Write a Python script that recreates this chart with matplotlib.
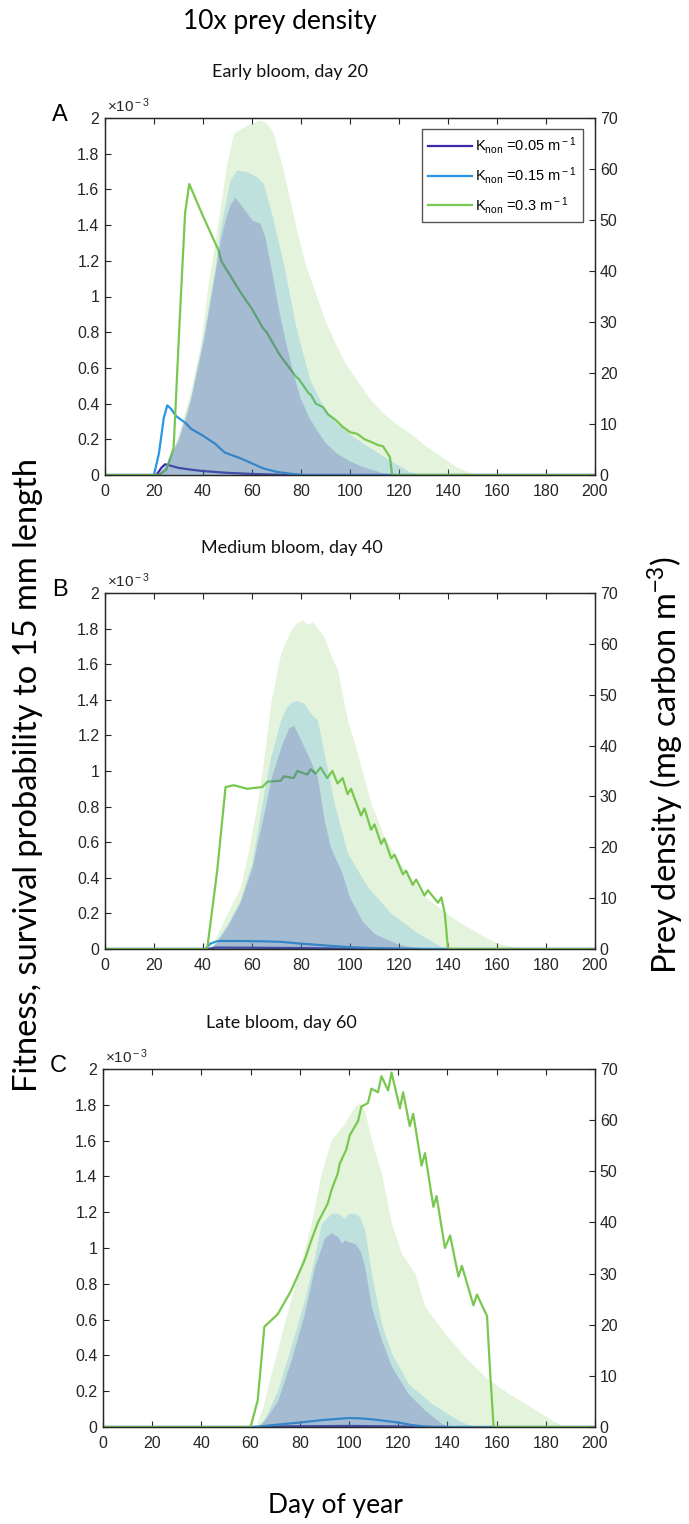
import matplotlib
matplotlib.use("Agg")
import matplotlib.pyplot as plt
from matplotlib.ticker import FuncFormatter

plt.rcParams['font.family'] = ['Liberation Sans', 'DejaVu Sans']
plt.rcParams['mathtext.fontset'] = 'custom'
plt.rcParams['mathtext.rm'] = 'Liberation Sans'
plt.rcParams['mathtext.it'] = 'Liberation Sans:italic'

# ---------------- data ----------------
k_labels = [r'K$_{\rm non}$ =0.05 m$^{\rm -1}$',
            r'K$_{\rm non}$ =0.15 m$^{\rm -1}$',
            r'K$_{\rm non}$ =0.3 m$^{\rm -1}$']
k_colors = ['#3e26a8', '#2b96e6', '#78c850']
panel_letters = ['A', 'B', 'C']
panel_titles = ['Early bloom, day 20', 'Medium bloom, day 40', 'Late bloom, day 60']

# Fitness lines (x10^-3), days
A_k005_day = [0, 21, 23, 24.5, 26, 30, 35, 40, 50, 60, 70, 80, 200]
A_k005_fit = [0, 0, 0.04, 0.06, 0.055, 0.04, 0.03, 0.022, 0.012, 0.006, 0.002, 0, 0]
A_k015_day = [0, 20, 22, 24, 25.4, 27, 29, 33, 35, 40, 45, 46.5, 49, 51, 55, 60, 64.6, 70, 75, 81, 200]
A_k015_fit = [0, 0, 0.12, 0.32, 0.39, 0.37, 0.33, 0.29, 0.26, 0.22, 0.175, 0.155, 0.125, 0.115, 0.095, 0.065, 0.037, 0.018, 0.008, 0, 0]
A_k03_day = [0, 22, 25, 28, 30.6, 32.7, 34.4, 40, 46.3, 47.6, 51, 55, 60, 64.6, 66, 71, 72, 78, 79, 83, 84, 86,
             89, 91, 94, 97, 100, 103, 106, 109.5, 111, 113.5, 116.3, 117.2, 200]
A_k03_fit = [0, 0, 0.03, 0.15, 0.9, 1.47, 1.63, 1.45, 1.26, 1.195, 1.12, 1.03, 0.93, 0.82, 0.8, 0.68, 0.66, 0.55, 0.54,
             0.46, 0.45, 0.40, 0.38, 0.34, 0.31, 0.27, 0.24, 0.23, 0.20, 0.18, 0.17, 0.16, 0.10, 0.0, 0]

B_k005_day = [0, 42, 45, 60, 80, 100, 120, 200]
B_k005_fit = [0, 0, 0.008, 0.007, 0.005, 0.002, 0, 0]
B_k015_day = [0, 41, 43, 46, 55, 65, 72, 80, 90, 100, 110, 125, 135, 200]
B_k015_fit = [0, 0, 0.03, 0.045, 0.045, 0.043, 0.04, 0.03, 0.02, 0.01, 0.005, 0.001, 0, 0]
B_k03_day = [0, 41.7, 45.8, 49.2, 52.6, 58, 64.2, 66.3, 71.7, 73, 77, 78.5, 82.6, 83.9, 86, 88, 90.7, 92.8, 94.9, 97,
             99, 100.4, 104.5, 105.9, 108.6, 110, 112.7, 114, 116.8, 118.2, 121.6, 122.9, 125.6, 127, 130.4, 131.8,
             135.9, 137.3, 138.7, 140, 200]
B_k03_fit = [0, 0, 0.44, 0.91, 0.92, 0.90, 0.91, 0.94, 0.945, 0.97, 0.96, 1.0, 0.98, 1.01, 0.985, 1.02, 0.96, 1.0,
             0.93, 0.96, 0.87, 0.90, 0.75, 0.79, 0.67, 0.70, 0.59, 0.62, 0.51, 0.53, 0.42, 0.44, 0.36, 0.39, 0.30,
             0.33, 0.26, 0.29, 0.20, 0, 0]

C_k005_day = [0, 62, 70, 100, 120, 135, 200]
C_k005_fit = [0, 0, 0.003, 0.006, 0.003, 0, 0]
C_k015_day = [0, 61, 65, 70, 80, 90, 100, 105, 110, 120, 125, 130, 135, 200]
C_k015_fit = [0, 0, 0.005, 0.012, 0.025, 0.04, 0.05, 0.048, 0.042, 0.025, 0.012, 0.004, 0, 0]
C_k03_day = [0, 60, 62.9, 65.6, 71, 76.4, 81.9, 84.6, 87.3, 91.4, 92.8, 95.5, 96.2, 98.9, 100.3, 103.7, 105, 107.7,
             109.1, 111.8, 113.2, 115.9, 117.3, 120.7, 122, 124.7, 126.1, 129.5, 130.9, 134.3, 135.6, 139, 141.1,
             144.5, 145.9, 150.6, 152, 156.1, 157.4, 158.8, 200]
C_k03_fit = [0, 0, 0.15, 0.56, 0.63, 0.76, 0.93, 1.04, 1.14, 1.25, 1.32, 1.42, 1.47, 1.55, 1.63, 1.71, 1.79, 1.81,
             1.89, 1.87, 1.96, 1.88, 1.98, 1.78, 1.87, 1.68, 1.75, 1.46, 1.53, 1.23, 1.29, 1.0, 1.07, 0.84, 0.9,
             0.68, 0.74, 0.62, 0.3, 0, 0]

# Prey density (mg C m^-3)
A_p005_day = [0, 21, 25, 30, 33.3, 35, 40, 45, 47, 49, 51, 53, 57, 60, 63.3, 65.3, 68.7, 71, 74.1, 77, 79.5, 83,
              86.4, 90, 94.6, 100, 105.5, 113.6, 120, 200]
A_p005_val = [0, 0, 2, 7, 12, 15, 26, 40, 46, 50, 53, 54.5, 52, 50, 49.4, 46.7, 38.2, 32, 25.2, 19.5, 15.3, 11.5,
              8.8, 6.3, 4.25, 2.7, 1.6, 0.4, 0, 0]
A_p015_day = [0, 21, 25, 30, 33.3, 35, 40, 45, 46.9, 51, 53.7, 58, 61.9, 64.6, 68, 72.8, 78.2, 83.7, 89, 94.6, 100,
              105.5, 111, 116.3, 124.5, 130, 200]
A_p015_val = [0, 0, 2.2, 7.5, 12.5, 15.5, 27, 41, 48, 57.8, 59.8, 59.5, 58.5, 57.2, 51.3, 41.5, 28.4, 18.6, 13.5,
              10.1, 8, 6.2, 4.5, 2.9, 0.6, 0, 0]
A_p03_day = [0, 21, 24, 29, 34.7, 38.8, 42, 45.6, 49.7, 52.4, 57.9, 63.3, 66, 68.7, 72.1, 75, 78.2, 82, 86.4, 90,
             94.6, 98, 102.7, 108, 113.6, 119, 124.5, 130, 135.4, 143.5, 151.7, 200]
A_p03_val = [0, 0, 1.5, 6.5, 16, 25.2, 37, 48, 61, 67, 68.6, 69.6, 69, 67, 61, 55, 48, 41, 35, 30, 25.2, 22, 18.6,
             15, 12.1, 10, 8.2, 6, 4.25, 1.6, 0, 0]

B_p005_day = [0, 43, 45, 50, 55, 60, 62.2, 65, 68, 72, 75, 77, 80, 83, 86.7, 89.5, 92, 96.3, 100, 105, 110, 120,
              130, 200]
B_p005_val = [0, 0, 1, 4.5, 9, 16, 21, 27, 34, 40, 43.5, 44, 41, 38, 33.8, 25.3, 20, 15.5, 10, 5.5, 3, 0.9, 0, 0]
B_p015_day = [0, 43, 44, 50, 55, 60, 62.2, 65, 67.6, 71.7, 74, 76, 78, 81.3, 84, 86.7, 89.5, 93.6, 99, 107.2,
              116.8, 127.7, 137.3, 142, 200]
B_p015_val = [0, 0, 0.5, 5, 9.5, 17, 23.4, 31, 37.8, 45, 47.5, 48.5, 48.9, 48.3, 46.3, 45, 38.4, 28.6, 18.8, 12.2,
              7, 3.1, 0.46, 0, 0]
B_p03_day = [0, 42, 45, 48.5, 55.3, 58, 62.2, 65, 67.6, 71.7, 75.8, 78, 80.6, 82.6, 84.7, 87, 89.5, 92, 94.9, 99,
             103.1, 108.6, 114, 122.3, 130.5, 141.4, 152.3, 160.5, 171, 200]
B_p03_val = [0, 0, 2, 5.7, 12.2, 18, 28.7, 38, 48.3, 58.1, 62.7, 64, 64.7, 63.8, 64.4, 63, 61.3, 58, 54.8, 45,
             38.4, 28.6, 22, 15.5, 10.3, 6.3, 3.1, 1.1, 0, 0]

C_p005_day = [0, 63, 66, 71, 76.4, 81.9, 86, 90, 92.8, 95.5, 97, 98.2, 100, 102.3, 104.5, 106.4, 109.1, 113.2,
              117.3, 124.1, 130.9, 137.7, 142, 200]
C_p005_val = [0, 0, 1.5, 5.2, 13, 22.2, 31.3, 37, 38, 37.2, 36, 36.6, 36.2, 35.9, 34.5, 31.3, 23.5, 17, 11.8, 6.5,
              3.3, 0.65, 0, 0]
C_p015_day = [0, 63, 66, 71, 76.4, 81.9, 86, 88.7, 92.8, 95.5, 98.2, 100, 102.3, 104.5, 106.4, 109.1, 113.2, 117.3,
              124.1, 133.6, 144.5, 151.3, 200]
C_p015_val = [0, 0, 2, 7.2, 15.7, 24.8, 33.3, 39.8, 41.8, 41.8, 40.8, 41.8, 41.8, 41, 38.5, 30, 20.2, 14.4, 8.5,
              4.6, 1.3, 0, 0]
C_p03_day = [0, 62, 65, 68.3, 73.7, 79.2, 84.6, 88.7, 92.8, 98.2, 102.3, 104.3, 106.4, 109.1, 113.2, 114.5, 117.3,
             121.3, 126.8, 130.9, 139, 147.2, 155.4, 165, 171.7, 182.6, 188, 200]
C_p03_val = [0, 0, 4, 10.4, 20.2, 30, 39.8, 49.6, 56.2, 59.4, 62.7, 63.3, 61.7, 56.2, 49.6, 46.4, 39.8, 34, 30,
             23.5, 18.3, 13.7, 9.8, 6.5, 4.6, 1.3, 0, 0]

fitness = [
    [(A_k005_day, A_k005_fit), (A_k015_day, A_k015_fit), (A_k03_day, A_k03_fit)],
    [(B_k005_day, B_k005_fit), (B_k015_day, B_k015_fit), (B_k03_day, B_k03_fit)],
    [(C_k005_day, C_k005_fit), (C_k015_day, C_k015_fit), (C_k03_day, C_k03_fit)],
]
prey = [
    [(A_p005_day, A_p005_val), (A_p015_day, A_p015_val), (A_p03_day, A_p03_val)],
    [(B_p005_day, B_p005_val), (B_p015_day, B_p015_val), (B_p03_day, B_p03_val)],
    [(C_p005_day, C_p005_val), (C_p015_day, C_p015_val), (C_p03_day, C_p03_val)],
]

x_ticks = list(range(0, 201, 20))
left_ticks = [0, 0.2, 0.4, 0.6, 0.8, 1, 1.2, 1.4, 1.6, 1.8, 2]
right_ticks = list(range(0, 71, 10))

# ---------------- figure ----------------
W, H = 689, 1524
fig = plt.figure(figsize=(W / 100, H / 100), dpi=100)

# axes boxes in pixels: left, right, top, bottom
boxes = [(105, 595, 118, 475), (105, 595, 593, 949), (103, 595, 1069, 1427)]
spine_col = '#262626'
title_font = 'Lato'
tick_fs = 11.5

for i, (l, r, t, b) in enumerate(boxes):
    ax = fig.add_axes([l / W, 1 - b / H, (r - l) / W, (b - t) / H])
    ax2 = ax.twinx()
    handles = []
    for (d, v), c, lab in zip(fitness[i], k_colors, k_labels):
        h, = ax.plot(d, v, color=c, lw=1.6, label=lab, solid_joinstyle='round')
        handles.append(h)
    # prey density areas on the right axis, drawn largest first
    for (d, v), c in reversed(list(zip(prey[i], k_colors))):
        ax2.fill_between(d, 0, v, color=c, alpha=0.2, lw=0)
    ax.set_xlim(0, 200)
    ax.set_ylim(0, 2)
    ax2.set_ylim(0, 70)
    ax.set_xticks(x_ticks)
    ax.set_yticks(left_ticks)
    ax2.set_yticks(right_ticks)
    ax.yaxis.set_major_formatter(FuncFormatter(lambda v, p: '%g' % v))
    ax.tick_params(axis='x', direction='in', top=True, length=4, width=0.8, pad=6.5,
                   labelsize=tick_fs, colors=spine_col)
    ax.tick_params(axis='y', direction='in', length=4, width=0.8, pad=4, labelsize=tick_fs, colors=spine_col)
    ax2.tick_params(axis='y', direction='in', length=4, width=0.8, pad=3.5, labelsize=tick_fs, colors=spine_col)
    for a in (ax, ax2):
        for s in a.spines.values():
            s.set_color(spine_col)
            s.set_linewidth(0.9)
    ax.text(0.005, 1.008, r'$\times$10$^{\rm -3}$', transform=ax.transAxes, ha='left', va='bottom',
            fontsize=11, color=spine_col)
    fig.text((l - 45) / W, 1 - (t - 3) / H, panel_letters[i], fontsize=17, ha='center', va='center',
             color='black')
    if i == 0:
        leg = ax2.legend(handles=handles, loc='upper right', bbox_to_anchor=(0.975, 0.97), fontsize=10.5,
                         handlelength=3.0, handletextpad=0.2, labelspacing=0.6, borderpad=0.45,
                         fancybox=False, framealpha=1, edgecolor='#555555', borderaxespad=0)
        leg.get_frame().set_linewidth(1.0)

# titles and labels
fig.text(280 / W, 1 - 22 / H, '10x prey density', fontsize=19, ha='center', va='center', family=title_font)
sub_pos = [(290, 72), (292, 548), (281, 1023)]
for (x, y), s in zip(sub_pos, panel_titles):
    fig.text(x / W, 1 - y / H, s, fontsize=13, ha='center', va='center', family=title_font, color='#111111')
fig.text(28 / W, 1 - 775 / H, 'Fitness, survival probability to 15 mm length', rotation=90, fontsize=23.5,
         ha='center', va='center', family=title_font)
fig.text(666 / W, 1 - 765 / H, 'Prey density (mg carbon m$^{-3}$)', rotation=90, fontsize=23.5,
         ha='center', va='center', family=title_font)
fig.text(335 / W, 1 - 1505 / H, 'Day of year', fontsize=19, ha='center', va='center', family=title_font)

fig.savefig('out.png', dpi=100)
